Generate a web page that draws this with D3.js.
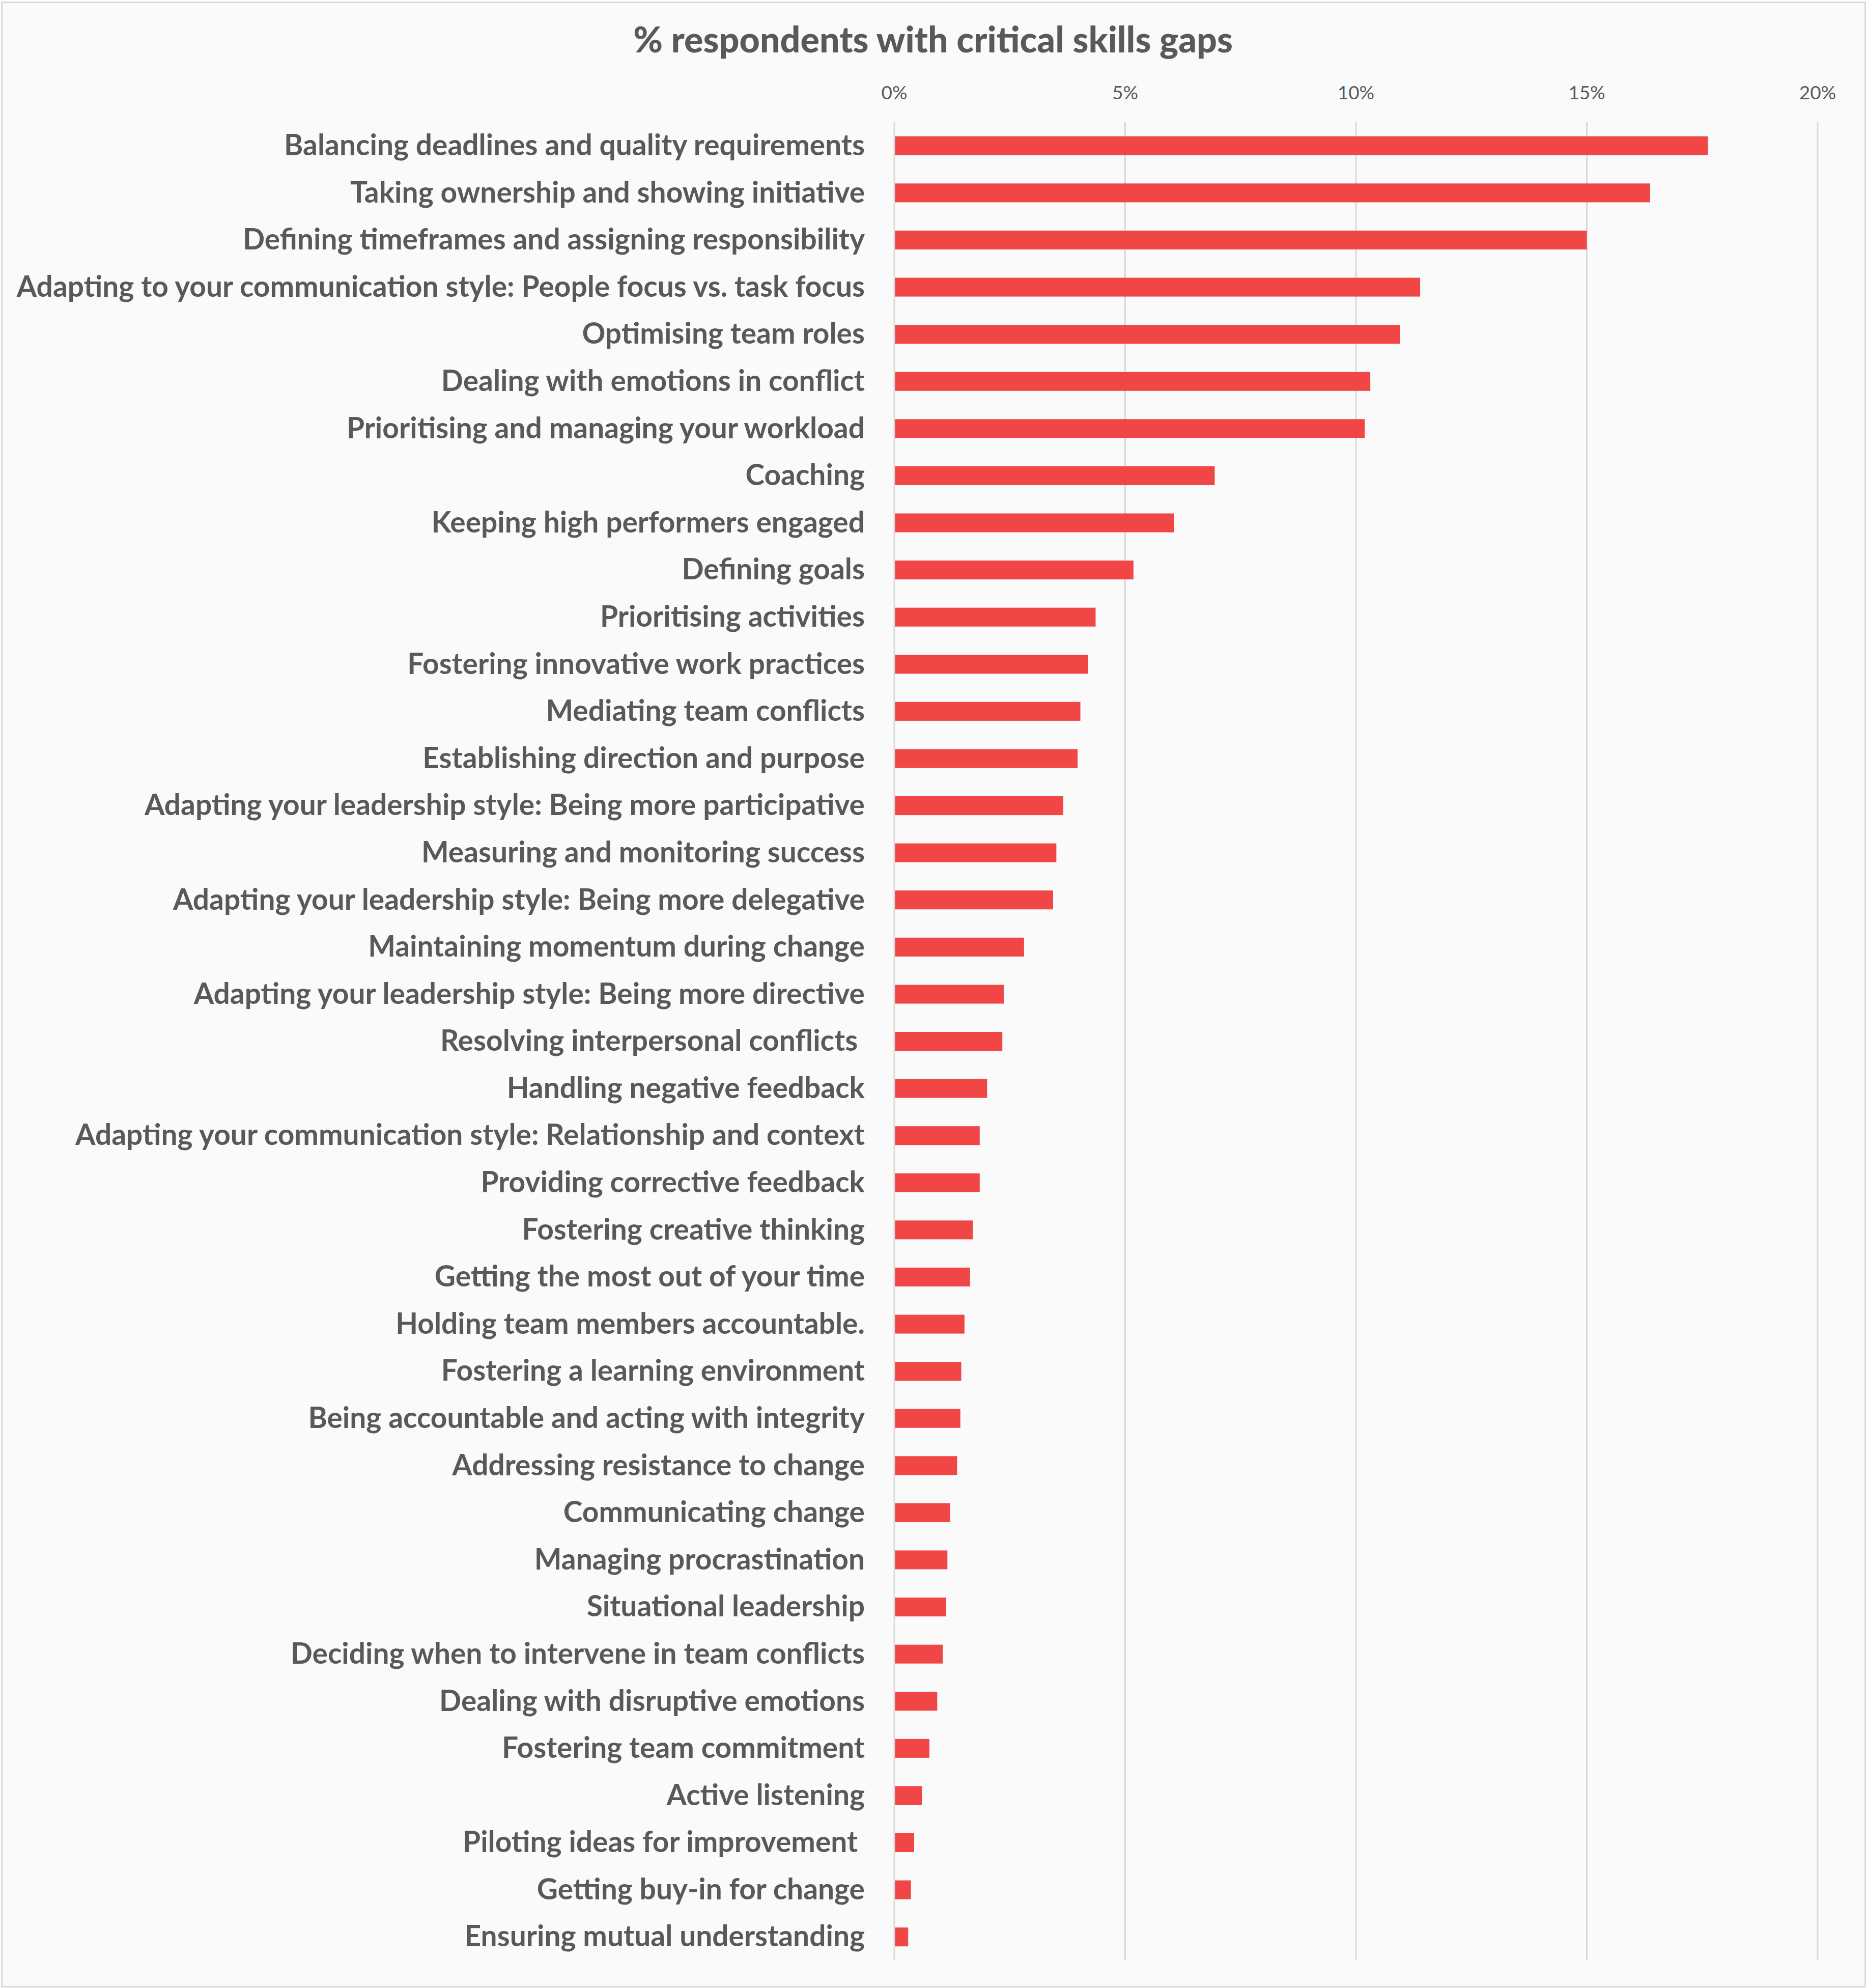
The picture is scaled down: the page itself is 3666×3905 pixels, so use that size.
<!DOCTYPE html>
<html>
<head>
<meta charset="utf-8">
<script src="https://cdn.jsdelivr.net/npm/d3@7/dist/d3.min.js"></script>
<style>
  html, body { margin: 0; padding: 0; background: #ffffff; }
  svg { display: block; }
  text { white-space: pre; }
</style>
</head>
<body>
<svg id="chart" width="3666" height="3905"></svg>
<script>
const title = "% respondents with critical skills gaps";

const categories = [
  "Balancing deadlines and quality requirements",
  "Taking ownership and showing initiative",
  "Defining timeframes and assigning responsibility",
  "Adapting to your communication style: People focus vs. task focus",
  "Optimising team roles",
  "Dealing with emotions in conflict",
  "Prioritising and managing your workload",
  "Coaching",
  "Keeping high performers engaged",
  "Defining goals",
  "Prioritising activities",
  "Fostering innovative work practices",
  "Mediating team conflicts",
  "Establishing direction and purpose",
  "Adapting your leadership style: Being more participative",
  "Measuring and monitoring success",
  "Adapting your leadership style: Being more delegative",
  "Maintaining momentum during change",
  "Adapting your leadership style: Being more directive",
  "Resolving interpersonal conflicts ",
  "Handling negative feedback",
  "Adapting your communication style: Relationship and context",
  "Providing corrective feedback",
  "Fostering creative thinking",
  "Getting the most out of your time",
  "Holding team members accountable.",
  "Fostering a learning environment",
  "Being accountable and acting with integrity",
  "Addressing resistance to change",
  "Communicating change",
  "Managing procrastination",
  "Situational leadership",
  "Deciding when to intervene in team conflicts",
  "Dealing with disruptive emotions",
  "Fostering team commitment",
  "Active listening",
  "Piloting ideas for improvement ",
  "Getting buy-in for change",
  "Ensuring mutual understanding"
];

const values = [
  17.62, 16.37, 15.00, 11.39, 10.95, 10.31, 10.19, 6.94, 6.06, 5.18,
  4.36, 4.20, 4.03, 3.97, 3.66, 3.51, 3.44, 2.81, 2.37, 2.34,
  2.01, 1.85, 1.85, 1.70, 1.64, 1.52, 1.45, 1.43, 1.36, 1.21,
  1.15, 1.12, 1.05, 0.93, 0.76, 0.60, 0.43, 0.36, 0.30
];

const tickValues = [0, 5, 10, 15, 20];
const tickLabels = ["0%", "5%", "10%", "15%", "20%"];

const W = 3666, H = 3905;
const textColor = "#595959";
const gridColor = "#d9d9d9";
const barColor = "#F04646";
const fontFamily = "Lato, 'Open Sans', sans-serif";

const svg = d3.select("#chart");

// background + border
svg.append("rect").attr("x", 0).attr("y", 0).attr("width", W).attr("height", H).attr("fill", "#ffffff");
svg.append("rect")
  .attr("x", 3.5).attr("y", 4.5).attr("width", W - 5).attr("height", H - 7)
  .attr("fill", "#fafafa").attr("stroke", gridColor).attr("stroke-width", 3);

const x = d3.scaleLinear().domain([0, 20]).range([1757, 3571]);
const y = d3.scaleBand().domain(categories).range([240, 3851]).paddingInner(0.6).paddingOuter(0.3);

// gridlines
svg.append("g").selectAll("line").data(tickValues).join("line")
  .attr("x1", d => x(d)).attr("x2", d => x(d))
  .attr("y1", 240).attr("y2", 3851)
  .attr("stroke", gridColor).attr("stroke-width", 3);

// top tick labels
svg.append("g").selectAll("text").data(tickValues).join("text")
  .attr("x", d => x(d)).attr("y", 195)
  .attr("text-anchor", "middle")
  .attr("font-family", fontFamily).attr("font-size", 37)
  .attr("fill", textColor)
  .text((d, i) => tickLabels[i]);

// bars
svg.append("g").selectAll("rect").data(categories).join("rect")
  .attr("x", x(0) + 1.5)
  .attr("y", d => y(d))
  .attr("width", (d, i) => Math.max(0, x(values[i]) - x(0) - 1.5))
  .attr("height", y.bandwidth())
  .attr("fill", barColor);

// category labels
const labelG = svg.append("g");
const labels = labelG.selectAll("text").data(categories).join("text")
  .attr("x", 1699)
  .attr("y", d => y(d) + y.bandwidth() / 2)
  .attr("dy", "0.33em")
  .attr("text-anchor", "end")
  .attr("font-family", fontFamily).attr("font-weight", 700)
  .attr("font-size", 54)
  .attr("fill", textColor)
  .text(d => d);

// fit label size so the longest label matches the reference width
let maxW = 0;
labels.each(function() { maxW = Math.max(maxW, this.getComputedTextLength()); });
const targetW = 1667;
if (maxW > 0) {
  const fs = Math.max(40, Math.min(70, 54 * targetW / maxW));
  labels.attr("font-size", fs);
}

// title
const t = svg.append("text")
  .attr("x", W / 2).attr("y", 103)
  .attr("text-anchor", "middle")
  .attr("font-family", fontFamily).attr("font-weight", 900)
  .attr("font-size", 64)
  .attr("fill", textColor)
  .text(title);
const tw = t.node().getComputedTextLength();
if (tw > 0) {
  t.attr("font-size", Math.max(48, Math.min(80, 64 * 1178 / tw)));
}
</script>
</body>
</html>
